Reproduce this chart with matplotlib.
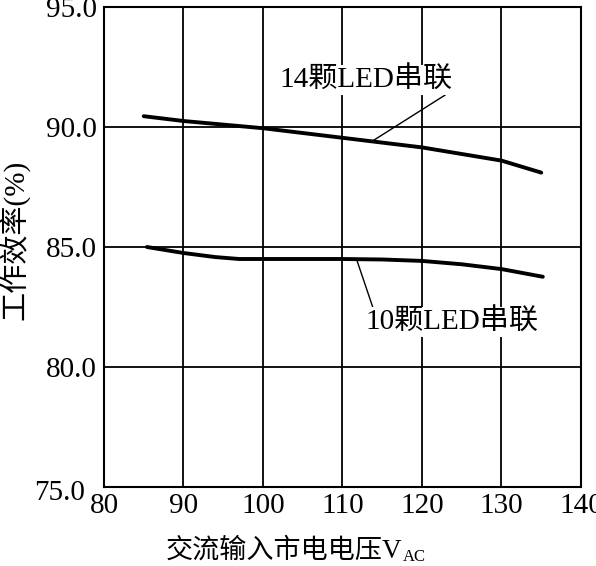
import matplotlib.pyplot as plt
from matplotlib.transforms import ScaledTranslation

plt.rcParams['font.family'] = ['Liberation Serif', 'Noto Sans CJK SC']

# efficiency curves
v14 = [85, 90, 100, 110, 120, 130, 135]
eff14 = [90.45, 90.25, 89.95, 89.55, 89.15, 88.6, 88.1]

v10 = [85.4, 90, 94, 97, 100, 110, 115, 120, 125, 130, 135.2]
eff10 = [85.0, 84.75, 84.58, 84.5, 84.5, 84.5, 84.48, 84.42, 84.28, 84.08, 83.76]

xticks = [80, 90, 100, 110, 120, 130, 140]
yticks = [75, 80, 85, 90, 95]

fig = plt.figure(figsize=(5.96, 5.66), dpi=100)
ax = fig.add_axes([0.1745, 0.1396, 0.8003, 0.848])

ax.plot(v14, eff14, color="k", lw=2.8, solid_capstyle="round")
ax.plot(v10, eff10, color="k", lw=2.8, solid_capstyle="round")

ax.set_xlim(80, 140)
ax.set_ylim(75, 95)
ax.set_xticks(xticks)
ax.set_yticks(yticks)
ax.set_yticklabels(["%.1f" % t for t in yticks])
ax.grid(True, color="k", lw=1.3)
ax.tick_params(length=0, labelsize=21)
ax.tick_params(axis="y", pad=5)
ax.tick_params(axis="x", pad=4)
for s in ax.spines.values():
    s.set_linewidth(1.5)

# the bottom y label sits a bit left and lower in the original
lbl = ax.get_yticklabels()[0]
lbl.set_transform(lbl.get_transform() + ScaledTranslation(-0.12, -0.03, fig.dpi_scale_trans))

# labels with leader lines
ax.plot([122.9, 113.6], [91.33, 89.38], color="k", lw=1)
ax.text(113, 91.96, "14颗LED串联", fontsize=21, ha="center", va="center",
        bbox=dict(facecolor="white", edgecolor="none", pad=1))
ax.plot([111.8, 113.8], [84.46, 82.5], color="k", lw=1)
ax.text(123.8, 81.87, "10颗LED串联", fontsize=21, ha="center", va="center",
        bbox=dict(facecolor="white", edgecolor="none", pad=1))

# x label with subscript, built from two texts
xl = fig.text(166 / 596, 1 - 551 / 566, "交流输入市电电压V", fontsize=19.5,
              ha="left", va="center")
ax.annotate("AC", xy=(1, 0), xycoords=xl, xytext=(0, -1),
            textcoords="offset points", fontsize=12, ha="left", va="bottom")

fig.text(15 / 596, 1 - 240 / 566, "工作效率(%)", fontsize=21,
         rotation=90, ha="center", va="center")

fig.savefig("out.png", dpi=100)
